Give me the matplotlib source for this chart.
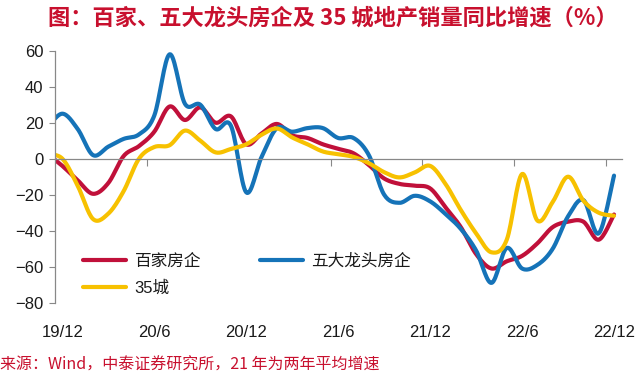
import numpy as np
import matplotlib
matplotlib.use("Agg")
import matplotlib.pyplot as plt

plt.rcParams['font.family'] = ['Liberation Sans', 'Noto Sans CJK SC', 'DejaVu Sans']

# monthly data, 19/11 .. 22/12 (first month only partly visible)
months = np.arange(-1, 37)
red_vals = [3, -4, -12, -19.5, -13.5, 1.5, 7, 15, 29, 21.5, 28.5, 20, 23.5, 8, 14, 19.3,
            13, 11.5, 8, 5.5, 3, -3.5, -11, -14, -15, -16.5, -27, -38, -53, -61, -57,
            -54, -47, -38, -35, -35, -45, -31]
blue_vals = [17, 25, 16.5, 2, 6.7, 11, 13.5, 24, 58, 30.5, 30, 16.5, 18.3, -18.7, 1, 17,
             15, 17, 17, 11.5, 11.5, 2, -20, -24.5, -20.6, -23.7, -30.7, -39, -51, -69,
             -49.6, -61, -59, -50, -32, -23, -41.5, -9.4]
yellow_vals = [2.5, 0, -15, -33.5, -30.5, -18, 0, 6.5, 7.5, 15.6, 10, 3.5, 5.4, 8, 13.3,
               16.8, 11.8, 8, 4, 2.5, 1, -2.5, -7.5, -10.4, -7.6, -4, -14, -28.5, -41.5,
               -52, -45, -8.5, -34.4, -24, -10, -23.3, -30, -31.7]
tick_labels = ['19/12', '20/6', '20/12', '21/6', '21/12', '22/6', '22/12']
label_pos = [0, 6, 12, 18, 24, 30, 36]


def smooth(x, y, n=16):
    # catmull-rom, like excel's smoothed line
    p = np.column_stack([x, y]).astype(float)
    p = np.vstack([p[0], p, p[-1]])
    t = np.linspace(0, 1, n, endpoint=False)[:, None]
    out = []
    for k in range(1, len(p) - 2):
        p0, p1, p2, p3 = p[k - 1], p[k], p[k + 1], p[k + 2]
        seg = 0.5 * (2 * p1 + (-p0 + p2) * t + (2 * p0 - 5 * p1 + 4 * p2 - p3) * t ** 2
                     + (-p0 + 3 * p1 - 3 * p2 + p3) * t ** 3)
        out.append(seg)
    out.append(p[-2][None, :])
    out = np.vstack(out)
    return out[:, 0], out[:, 1]


fig = plt.figure(figsize=(6.4, 3.75), dpi=100)
ax = fig.add_axes([54.7 / 640, 1 - 302.7 / 375, 567 / 640, 252 / 375])

lines = {}
for name, vals, col in [('百家房企', red_vals, '#C0103A'),
                        ('五大龙头房企', blue_vals, '#1573B8'),
                        ('35城', yellow_vals, '#F7C100')]:
    xs, ys = smooth(months, vals)
    lines[name], = ax.plot(xs, ys, color=col, lw=3.0, solid_capstyle='round', label=name)

ax.set_xlim(-0.5, 36.5)
ax.set_ylim(-80, 60)
ax.set_yticks(np.arange(-80, 61, 20))
ax.tick_params(axis='y', direction='out', length=4, width=0.8, color='#888888',
               labelsize=12, labelcolor='#1a1a1a', pad=4)

for s in ['top', 'right']:
    ax.spines[s].set_visible(False)
ax.spines['left'].set_color('#888888')
ax.spines['left'].set_linewidth(0.9)
ax.spines['bottom'].set_position(('data', 0))
ax.spines['bottom'].set_color('#888888')
ax.spines['bottom'].set_linewidth(0.9)
ax.set_xticks(np.arange(5.5, 36, 6))
ax.tick_params(axis='x', direction='out', length=5, width=0.8, color='#888888', labelbottom=False)

for pos, lab in zip(label_pos, tick_labels):
    ax.text(pos, -0.117, lab, transform=ax.get_xaxis_transform(), ha='center', va='center',
            fontsize=12, color='#1a1a1a')

leg = ax.legend(handles=[lines['百家房企'], lines['35城'], lines['五大龙头房企']], ncol=2,
                loc='upper left', bbox_to_anchor=(0.05, 0.197), frameon=False,
                fontsize=12, handlelength=2.6, handletextpad=0.5, columnspacing=3.5,
                labelspacing=0.73, borderpad=0, borderaxespad=0)
for t in leg.get_texts():
    t.set_color('#1a1a1a')

fig.text(0.52, 0.953, '图：百家、五大龙头房企及 35 城地产销量同比增速（%）', ha='center', va='center',
         fontsize=16, fontweight='bold', color='#C8102E', family=['Noto Sans CJK SC', 'DejaVu Sans'])
fig.text(0.0, 0.027, '来源：Wind，中泰证券研究所，21 年为两年平均增速', ha='left', va='center',
         fontsize=11.5, color='#C8102E', family=['Noto Sans CJK SC', 'DejaVu Sans'])

fig.savefig('out.png', dpi=100)
